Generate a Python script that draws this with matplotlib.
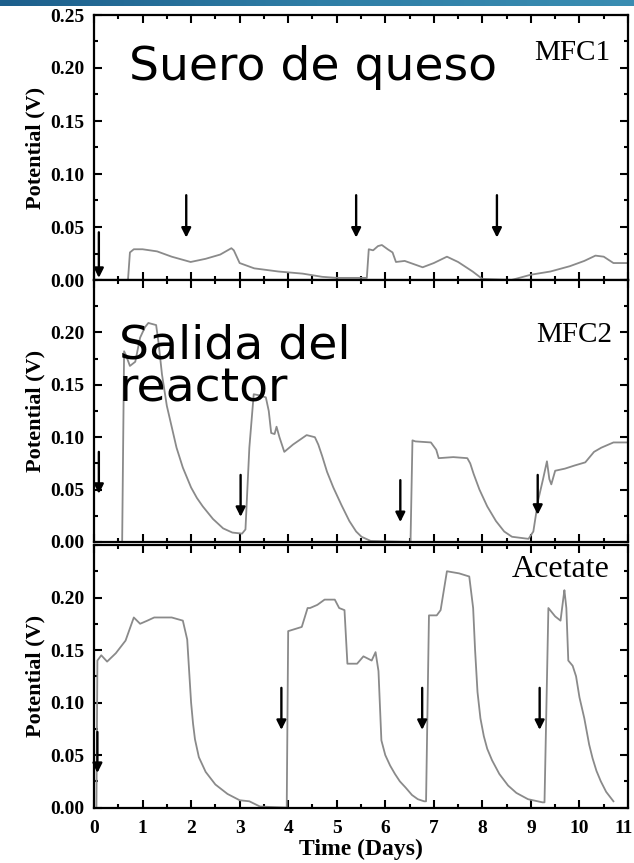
import numpy as np
import matplotlib
matplotlib.use('Agg')
import matplotlib.pyplot as plt
from matplotlib.colors import LinearSegmentedColormap
from matplotlib.ticker import MultipleLocator

# ---- data: (day, volts) ----
mfc1 = [(0, 0), (0.70, 0), (0.74, 0.026), (0.82, 0.029), (1.0, 0.029), (1.3, 0.027),
        (1.6, 0.022), (1.99, 0.017), (2.3, 0.020), (2.6, 0.024), (2.83, 0.030), (2.88, 0.028),
        (3.0, 0.016), (3.3, 0.011), (3.8, 0.008), (4.3, 0.006), (4.7, 0.003), (5.0, 0.002),
        (5.62, 0.002), (5.66, 0.029), (5.75, 0.028), (5.85, 0.032), (5.93, 0.033), (6.05, 0.029),
        (6.15, 0.026), (6.22, 0.017), (6.4, 0.018), (6.77, 0.012), (7.0, 0.016), (7.27, 0.022),
        (7.5, 0.017), (7.8, 0.008), (8.0, 0.001), (8.6, 0), (9.0, 0.005), (9.4, 0.008),
        (9.8, 0.013), (10.1, 0.018), (10.33, 0.023), (10.5, 0.022), (10.7, 0.016), (11.0, 0.016)]

mfc2 = [(0, 0), (0.58, 0), (0.62, 0.182), (0.66, 0.178), (0.74, 0.168), (0.85, 0.172),
        (0.95, 0.195), (1.05, 0.205), (1.12, 0.209), (1.28, 0.207), (1.33, 0.19), (1.4, 0.16),
        (1.5, 0.13), (1.6, 0.11), (1.7, 0.09), (1.83, 0.071), (2.0, 0.052), (2.12, 0.042),
        (2.24, 0.034), (2.45, 0.022), (2.66, 0.013), (2.85, 0.009), (3.05, 0.008), (3.12, 0.012),
        (3.2, 0.09), (3.29, 0.141), (3.4, 0.14), (3.54, 0.138), (3.6, 0.125), (3.65, 0.104),
        (3.72, 0.103), (3.76, 0.11), (3.82, 0.10), (3.92, 0.086), (4.1, 0.093), (4.38, 0.102),
        (4.55, 0.10), (4.62, 0.093), (4.7, 0.082), (4.8, 0.067), (4.93, 0.052), (5.1, 0.035),
        (5.26, 0.02), (5.4, 0.01), (5.51, 0.005), (5.7, 0.001), (6.52, 0), (6.56, 0.097),
        (6.62, 0.096), (6.94, 0.095), (7.05, 0.088), (7.1, 0.080), (7.4, 0.081), (7.69, 0.080),
        (7.75, 0.075), (7.82, 0.065), (7.94, 0.05), (8.1, 0.034), (8.28, 0.02), (8.45, 0.01),
        (8.61, 0.005), (8.95, 0.003), (9.05, 0.01), (9.15, 0.04), (9.25, 0.06), (9.33, 0.077),
        (9.38, 0.06), (9.42, 0.055), (9.5, 0.068), (9.7, 0.07), (9.9, 0.073), (10.12, 0.076),
        (10.3, 0.086), (10.45, 0.09), (10.7, 0.095), (11.0, 0.095)]

acetate = [(0.05, 0), (0.07, 0.14), (0.15, 0.145), (0.27, 0.139), (0.45, 0.147), (0.65, 0.159),
           (0.82, 0.181), (0.95, 0.175), (1.1, 0.178), (1.24, 0.181), (1.6, 0.181), (1.83, 0.178),
           (1.92, 0.16), (1.96, 0.13), (2.0, 0.10), (2.04, 0.08), (2.08, 0.065), (2.16, 0.048),
           (2.3, 0.034), (2.5, 0.022), (2.75, 0.013), (3.0, 0.007), (3.2, 0.006), (3.42, 0.001),
           (3.97, 0), (4.0, 0.168), (4.28, 0.172), (4.4, 0.19), (4.45, 0.19), (4.6, 0.193),
           (4.75, 0.198), (4.96, 0.198), (5.05, 0.19), (5.16, 0.188), (5.22, 0.137), (5.42, 0.137),
           (5.55, 0.144), (5.72, 0.14), (5.8, 0.148), (5.86, 0.13), (5.92, 0.064), (6.0, 0.05),
           (6.1, 0.04), (6.2, 0.032), (6.3, 0.025), (6.42, 0.019), (6.55, 0.012), (6.67, 0.008),
           (6.8, 0.006), (6.84, 0.006), (6.9, 0.183), (7.06, 0.183), (7.14, 0.188), (7.27, 0.225),
           (7.52, 0.223), (7.73, 0.22), (7.81, 0.19), (7.85, 0.15), (7.9, 0.11), (7.96, 0.085),
           (8.03, 0.068), (8.1, 0.056), (8.2, 0.045), (8.35, 0.032), (8.53, 0.021), (8.7, 0.014),
           (8.94, 0.008), (9.24, 0.005), (9.28, 0.005), (9.36, 0.19), (9.5, 0.182), (9.61, 0.178),
           (9.67, 0.2), (9.69, 0.207), (9.73, 0.19), (9.77, 0.14), (9.86, 0.135), (9.93, 0.125),
           (10.0, 0.105), (10.1, 0.085), (10.2, 0.06), (10.27, 0.047), (10.35, 0.035),
           (10.44, 0.025), (10.55, 0.015), (10.7, 0.006)]

# feeding arrows: day, top, bottom
mfc1_arrows = [(0.10, 0.045, 0.002), (1.9, 0.08, 0.040), (5.4, 0.08, 0.040), (8.3, 0.08, 0.040)]
mfc2_arrows = [(0.10, 0.086, 0.046), (3.02, 0.064, 0.024), (6.31, 0.059, 0.019), (9.14, 0.064, 0.026)]
acet_arrows = [(0.07, 0.072, 0.033), (3.86, 0.114, 0.074), (6.76, 0.114, 0.074), (9.18, 0.114, 0.074)]

day_ticks = list(range(0, 12))

panels = [
    (mfc1, mfc1_arrows, 'MFC1'),
    (mfc2, mfc2_arrows, 'MFC2'),
    (acetate, acet_arrows, 'Acetate'),
]
# panel boxes in figure pixels (top, bottom) and tag placement (x, baseline, size)
H = 863.0
boxes = [(15, 280), (280, 542), (545, 807.6)]
tag_pos = [(0.966, 0.830, 21), (0.970, 0.763, 21), (0.966, 0.878, 23)]

serif = 'Liberation Serif'
fig = plt.figure(figsize=(6.34, 8.63), dpi=100)

# blue strip across the top
band = fig.add_axes([0, 1 - 6 / H, 1, 6 / H])
cmap = LinearSegmentedColormap.from_list('band', ['#1d5f8c', '#2f7ea6', '#3a8db2'])
band.imshow(np.linspace(0, 1, 256)[None, :], aspect='auto', cmap=cmap)
band.axis('off')

axes = []
for i, (series, arrows, tag) in enumerate(panels):
    t, v = zip(*series)
    top, bot = boxes[i]
    ax = fig.add_axes([94 / 634, 1 - bot / H, 534 / 634, (bot - top) / H])
    ax.plot(t, v, color='#8a8a8a', lw=1.3)
    for x, y0, y1 in arrows:
        ax.annotate('', xy=(x, y1), xytext=(x, y0),
                    arrowprops=dict(arrowstyle='-|>', color='black', lw=1.7,
                                    mutation_scale=14, shrinkA=0, shrinkB=0))
    ax.set_xlim(0, 11)
    ax.set_ylim(0, 0.25)
    ax.xaxis.set_major_locator(MultipleLocator(1))
    ax.xaxis.set_minor_locator(MultipleLocator(0.5))
    ax.yaxis.set_major_locator(MultipleLocator(0.05))
    ax.yaxis.set_minor_locator(MultipleLocator(0.025))
    ax.tick_params(which='both', direction='in', top=True, right=True, width=1.5)
    ax.tick_params(which='major', length=6)
    ax.tick_params(which='minor', length=3)
    ax.tick_params(axis='y', pad=7)
    ax.tick_params(axis='x', pad=9)
    for s in ax.spines.values():
        s.set_linewidth(1.6)
    ax.set_yticks([0, 0.05, 0.10, 0.15, 0.20, 0.25] if i == 0 else [0, 0.05, 0.10, 0.15, 0.20])
    ax.set_yticklabels(['%.2f' % y for y in ax.get_yticks()],
                       fontfamily=serif, fontweight='bold', fontsize=14)
    ax.set_ylabel('Potential (V)', fontfamily=serif, fontweight='bold', fontsize=16, labelpad=3)
    if i < 2:
        ax.tick_params(axis='x', labelbottom=False)
    else:
        ax.set_xticks(day_ticks)
        # last label sits on the right edge; nudge it in so it is not clipped
        ax.set_xticklabels([str(d) for d in day_ticks[:-1]] + [''],
                           fontfamily=serif, fontweight='bold', fontsize=14)
        ax.annotate(str(day_ticks[-1]), xy=(day_ticks[-1], 0), xycoords=('data', 'axes fraction'),
                    xytext=(-3, -9), textcoords='offset points', ha='center', va='top',
                    fontfamily=serif, fontweight='bold', fontsize=14, annotation_clip=False)
        ax.set_xlabel('Time (Days)', fontfamily=serif, fontweight='bold', fontsize=17, labelpad=1)
    tx, ty, tsize = tag_pos[i]
    ax.text(tx, ty, tag, transform=ax.transAxes, ha='right', va='baseline',
            fontfamily=serif, fontsize=tsize)
    axes.append(ax)

axes[0].text(0.065, 0.755, 'Suero de queso', transform=axes[0].transAxes,
             fontsize=34, ha='left', va='baseline')
axes[1].text(0.046, 0.535, 'Salida del\nreactor', transform=axes[1].transAxes,
             fontsize=34, ha='left', va='baseline', linespacing=0.95)

fig.savefig('out.png', dpi=100)
